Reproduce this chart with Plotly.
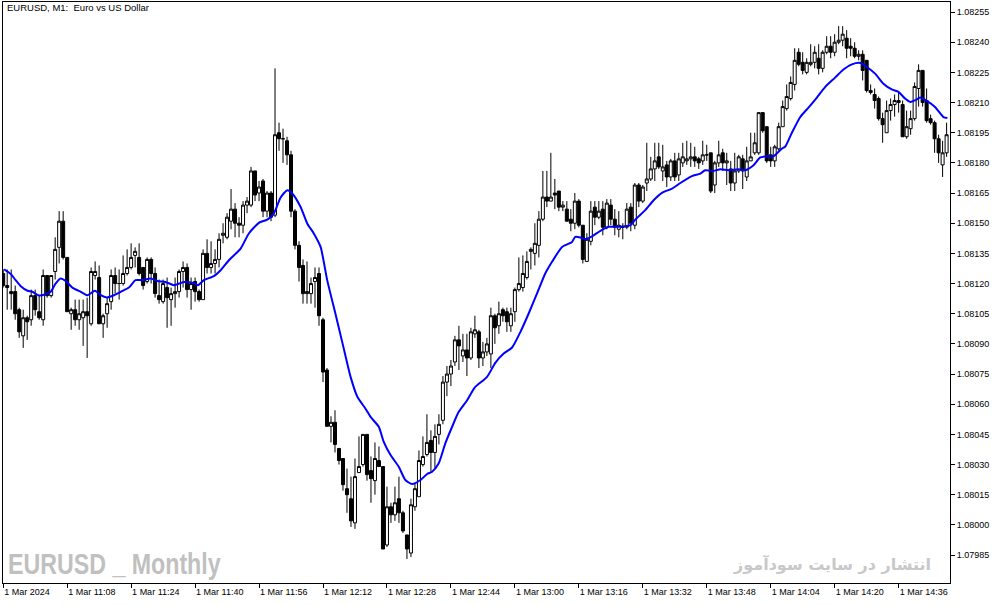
import plotly.graph_objects as go

# ---------------- data (EURUSD M1, 1 Mar 2024, 10:52 .. 14:48) ----------------
opens = [
    1.08125, 1.08119, 1.08116, 1.08116, 1.08107, 1.08094, 1.08103, 1.08102, 1.08114, 1.08106,
    1.08102, 1.08124, 1.08114, 1.08126, 1.08138, 1.08151, 1.08133, 1.08105, 1.08107, 1.08102,
    1.08103, 1.08106, 1.08100, 1.08124, 1.08123, 1.08100, 1.08105, 1.08111, 1.08124, 1.08120,
    1.08120, 1.08125, 1.08128, 1.08134, 1.08133, 1.08128, 1.08121, 1.08132, 1.08125, 1.08114,
    1.08111, 1.08118, 1.08112, 1.08115, 1.08116, 1.08126, 1.08128, 1.08117, 1.08121, 1.08116,
    1.08112, 1.08135, 1.08128, 1.08130, 1.08132, 1.08144, 1.08143, 1.08151, 1.08157, 1.08150,
    1.08149, 1.08159, 1.08159, 1.08176, 1.08165, 1.08171, 1.08156, 1.08165, 1.08154, 1.08195,
    1.08192, 1.08191, 1.08184, 1.08156, 1.08139, 1.08129, 1.08115, 1.08115, 1.08121, 1.08125,
    1.08102, 1.08077, 1.08049, 1.08051, 1.08038, 1.08033, 1.08018, 1.08013, 1.08001, 1.08026,
    1.08030, 1.08045, 1.08027, 1.08022, 1.08032, 1.08029, 1.07990, 1.08009, 1.08005, 1.08013,
    1.08006, 1.07995, 1.07986, 1.08009, 1.08014, 1.08030, 1.08035, 1.08042, 1.08036, 1.08045,
    1.08052, 1.08071, 1.08075, 1.08081, 1.08092, 1.08084, 1.08087, 1.08083, 1.08095, 1.08096,
    1.08083, 1.08086, 1.08085, 1.08104, 1.08099, 1.08107, 1.08106, 1.08099, 1.08106, 1.08117,
    1.08118, 1.08123, 1.08136, 1.08135, 1.08139, 1.08152, 1.08163, 1.08161, 1.08165, 1.08166,
    1.08158, 1.08157, 1.08152, 1.08150, 1.08161, 1.08149, 1.08131, 1.08141, 1.08158, 1.08153,
    1.08157, 1.08148, 1.08159, 1.08152, 1.08147, 1.08148, 1.08148, 1.08158, 1.08149, 1.08169,
    1.08161, 1.08170, 1.08172, 1.08177, 1.08183, 1.08176, 1.08179, 1.08173, 1.08181, 1.08174,
    1.08180, 1.08181, 1.08182, 1.08183, 1.08182, 1.08181, 1.08184, 1.08185, 1.08169, 1.08180,
    1.08185, 1.08180, 1.08177, 1.08170, 1.08176, 1.08182, 1.08173, 1.08181, 1.08185, 1.08185,
    1.08205, 1.08198, 1.08184, 1.08181, 1.08187, 1.08198, 1.08207, 1.08212, 1.08219, 1.08235,
    1.08230, 1.08225, 1.08229, 1.08230, 1.08232, 1.08227, 1.08235, 1.08238, 1.08235, 1.08240,
    1.08241, 1.08242, 1.08238, 1.08237, 1.08233, 1.08234, 1.08231, 1.08216, 1.08214, 1.08212,
    1.08202, 1.08195, 1.08206, 1.08209, 1.08211, 1.08209, 1.08193, 1.08197, 1.08202, 1.08217,
    1.08226, 1.08211, 1.08202, 1.08200, 1.08192, 1.08179, 1.08185,
]
highs = [
    1.08127, 1.08127, 1.08127, 1.08119, 1.08108, 1.08107, 1.08104, 1.08117, 1.08117, 1.08114,
    1.08127, 1.08124, 1.08124, 1.08143, 1.08156, 1.08156, 1.08133, 1.08108, 1.08112, 1.08112,
    1.08112, 1.08113, 1.08128, 1.08131, 1.08129, 1.08105, 1.08113, 1.08127, 1.08128, 1.08127,
    1.08134, 1.08137, 1.08140, 1.08138, 1.08140, 1.08128, 1.08133, 1.08133, 1.08128, 1.08122,
    1.08122, 1.08123, 1.08118, 1.08123, 1.08127, 1.08131, 1.08130, 1.08123, 1.08123, 1.08117,
    1.08137, 1.08142, 1.08141, 1.08137, 1.08145, 1.08150, 1.08155, 1.08167, 1.08160, 1.08153,
    1.08161, 1.08163, 1.08178, 1.08176, 1.08171, 1.08172, 1.08166, 1.08166, 1.08227, 1.08200,
    1.08197, 1.08193, 1.08186, 1.08157, 1.08141, 1.08132, 1.08131, 1.08123, 1.08128, 1.08128,
    1.08103, 1.08078, 1.08054, 1.08057, 1.08038, 1.08033, 1.08028, 1.08024, 1.08033, 1.08044,
    1.08045, 1.08045, 1.08034, 1.08041, 1.08039, 1.08029, 1.08019, 1.08011, 1.08019, 1.08024,
    1.08007, 1.07995, 1.08013, 1.08021, 1.08037, 1.08044, 1.08055, 1.08047, 1.08050, 1.08055,
    1.08074, 1.08079, 1.08082, 1.08094, 1.08099, 1.08095, 1.08095, 1.08098, 1.08104, 1.08097,
    1.08091, 1.08093, 1.08108, 1.08105, 1.08111, 1.08108, 1.08108, 1.08108, 1.08118, 1.08133,
    1.08134, 1.08136, 1.08138, 1.08150, 1.08156, 1.08176, 1.08176, 1.08185, 1.08172, 1.08166,
    1.08161, 1.08161, 1.08157, 1.08165, 1.08162, 1.08149, 1.08145, 1.08161, 1.08161, 1.08161,
    1.08161, 1.08162, 1.08162, 1.08157, 1.08156, 1.08150, 1.08160, 1.08160, 1.08170, 1.08170,
    1.08169, 1.08190, 1.08183, 1.08190, 1.08190, 1.08189, 1.08181, 1.08182, 1.08185, 1.08185,
    1.08190, 1.08191, 1.08190, 1.08188, 1.08183, 1.08191, 1.08189, 1.08185, 1.08181, 1.08191,
    1.08187, 1.08185, 1.08181, 1.08185, 1.08184, 1.08184, 1.08188, 1.08195, 1.08195, 1.08205,
    1.08205, 1.08198, 1.08188, 1.08189, 1.08200, 1.08211, 1.08219, 1.08223, 1.08237, 1.08237,
    1.08235, 1.08232, 1.08239, 1.08238, 1.08239, 1.08236, 1.08243, 1.08243, 1.08244, 1.08248,
    1.08248, 1.08246, 1.08242, 1.08240, 1.08236, 1.08236, 1.08231, 1.08219, 1.08217, 1.08213,
    1.08205, 1.08211, 1.08212, 1.08214, 1.08215, 1.08211, 1.08206, 1.08206, 1.08220, 1.08229,
    1.08226, 1.08217, 1.08204, 1.08201, 1.08194, 1.08191, 1.08200,
]
lows = [
    1.08118, 1.08107, 1.08107, 1.08102, 1.08093, 1.08088, 1.08092, 1.08099, 1.08104, 1.08102,
    1.08099, 1.08113, 1.08113, 1.08122, 1.08130, 1.08132, 1.08106, 1.08097, 1.08099, 1.08097,
    1.08089, 1.08083, 1.08099, 1.08122, 1.08100, 1.08093, 1.08098, 1.08107, 1.08115, 1.08112,
    1.08119, 1.08124, 1.08127, 1.08128, 1.08124, 1.08117, 1.08120, 1.08120, 1.08113, 1.08110,
    1.08110, 1.08098, 1.08099, 1.08108, 1.08113, 1.08118, 1.08113, 1.08107, 1.08111, 1.08111,
    1.08112, 1.08125, 1.08125, 1.08125, 1.08128, 1.08140, 1.08142, 1.08147, 1.08143, 1.08143,
    1.08145, 1.08155, 1.08158, 1.08161, 1.08161, 1.08153, 1.08153, 1.08151, 1.08153, 1.08186,
    1.08180, 1.08179, 1.08153, 1.08137, 1.08121, 1.08110, 1.08110, 1.08110, 1.08108, 1.08099,
    1.08071, 1.08049, 1.08041, 1.08036, 1.08030, 1.08017, 1.08006, 1.07999, 1.07998, 1.08026,
    1.08029, 1.08022, 1.08011, 1.08015, 1.08029, 1.07988, 1.07989, 1.08001, 1.08002, 1.08001,
    1.07996, 1.07983, 1.07984, 1.08007, 1.08014, 1.08029, 1.08034, 1.08026, 1.08028, 1.08040,
    1.08050, 1.08064, 1.08069, 1.08079, 1.08077, 1.08081, 1.08074, 1.08082, 1.08093, 1.08078,
    1.08079, 1.08084, 1.08078, 1.08090, 1.08095, 1.08101, 1.08096, 1.08096, 1.08101, 1.08116,
    1.08116, 1.08122, 1.08127, 1.08129, 1.08133, 1.08151, 1.08158, 1.08161, 1.08157, 1.08156,
    1.08156, 1.08151, 1.08146, 1.08147, 1.08148, 1.08130, 1.08131, 1.08139, 1.08149, 1.08152,
    1.08144, 1.08147, 1.08149, 1.08144, 1.08143, 1.08142, 1.08147, 1.08146, 1.08147, 1.08158,
    1.08160, 1.08166, 1.08171, 1.08171, 1.08177, 1.08171, 1.08168, 1.08171, 1.08171, 1.08171,
    1.08178, 1.08179, 1.08178, 1.08178, 1.08177, 1.08179, 1.08181, 1.08165, 1.08165, 1.08178,
    1.08176, 1.08169, 1.08166, 1.08166, 1.08175, 1.08167, 1.08171, 1.08181, 1.08184, 1.08184,
    1.08195, 1.08180, 1.08178, 1.08178, 1.08186, 1.08198, 1.08206, 1.08211, 1.08216, 1.08228,
    1.08224, 1.08224, 1.08228, 1.08227, 1.08224, 1.08225, 1.08234, 1.08232, 1.08233, 1.08239,
    1.08238, 1.08232, 1.08233, 1.08232, 1.08231, 1.08221, 1.08215, 1.08214, 1.08207, 1.08201,
    1.08190, 1.08195, 1.08201, 1.08203, 1.08205, 1.08193, 1.08192, 1.08194, 1.08201, 1.08208,
    1.08208, 1.08200, 1.08199, 1.08185, 1.08180, 1.08173, 1.08183,
]
closes = [
    1.08119, 1.08118, 1.08115, 1.08105, 1.08096, 1.08103, 1.08101, 1.08114, 1.08107, 1.08103,
    1.08124, 1.08114, 1.08124, 1.08137, 1.08151, 1.08133, 1.08106, 1.08107, 1.08102, 1.08105,
    1.08106, 1.08104, 1.08126, 1.08126, 1.08100, 1.08104, 1.08110, 1.08124, 1.08120, 1.08120,
    1.08125, 1.08128, 1.08133, 1.08136, 1.08125, 1.08119, 1.08132, 1.08125, 1.08115, 1.08112,
    1.08120, 1.08113, 1.08115, 1.08116, 1.08126, 1.08128, 1.08117, 1.08120, 1.08116, 1.08112,
    1.08135, 1.08128, 1.08130, 1.08132, 1.08142, 1.08145, 1.08153, 1.08157, 1.08150, 1.08149,
    1.08159, 1.08161, 1.08176, 1.08164, 1.08168, 1.08156, 1.08165, 1.08153, 1.08194, 1.08192,
    1.08192, 1.08184, 1.08156, 1.08139, 1.08128, 1.08115, 1.08116, 1.08120, 1.08123, 1.08104,
    1.08076, 1.08049, 1.08051, 1.08040, 1.08032, 1.08020, 1.08015, 1.08002, 1.08024, 1.08029,
    1.08045, 1.08025, 1.08023, 1.08033, 1.08029, 1.07988, 1.08009, 1.08005, 1.08011, 1.08006,
    1.07997, 1.07988, 1.08010, 1.08018, 1.08032, 1.08034, 1.08041, 1.08036, 1.08044, 1.08050,
    1.08071, 1.08075, 1.08079, 1.08092, 1.08089, 1.08087, 1.08083, 1.08096, 1.08097, 1.08083,
    1.08086, 1.08090, 1.08104, 1.08098, 1.08105, 1.08104, 1.08101, 1.08105, 1.08117, 1.08120,
    1.08125, 1.08131, 1.08137, 1.08140, 1.08152, 1.08163, 1.08161, 1.08163, 1.08164, 1.08158,
    1.08159, 1.08151, 1.08150, 1.08161, 1.08149, 1.08132, 1.08142, 1.08156, 1.08153, 1.08156,
    1.08148, 1.08160, 1.08152, 1.08148, 1.08149, 1.08148, 1.08157, 1.08150, 1.08169, 1.08161,
    1.08168, 1.08172, 1.08177, 1.08181, 1.08178, 1.08178, 1.08173, 1.08181, 1.08173, 1.08182,
    1.08183, 1.08182, 1.08183, 1.08181, 1.08180, 1.08184, 1.08184, 1.08166, 1.08180, 1.08184,
    1.08180, 1.08181, 1.08170, 1.08176, 1.08183, 1.08176, 1.08181, 1.08183, 1.08190, 1.08205,
    1.08196, 1.08181, 1.08181, 1.08188, 1.08198, 1.08208, 1.08213, 1.08220, 1.08231, 1.08229,
    1.08226, 1.08230, 1.08230, 1.08235, 1.08227, 1.08235, 1.08238, 1.08235, 1.08240, 1.08241,
    1.08244, 1.08237, 1.08237, 1.08233, 1.08234, 1.08226, 1.08216, 1.08215, 1.08211, 1.08202,
    1.08199, 1.08206, 1.08209, 1.08211, 1.08210, 1.08193, 1.08198, 1.08202, 1.08218, 1.08226,
    1.08210, 1.08201, 1.08200, 1.08192, 1.08185, 1.08185, 1.08194,
]
candle_idx = list(range(len(closes)))

# moving average line, x in bar index units
ma_idx = [
    0.2, 1.9, 3.1, 4.4, 6.1, 7.3, 8.95, 10.6, 11.9, 13.1, 14.4, 15.6, 17.3, 19.4, 21.1,
    22.95, 24.4, 25.9, 27.7, 29.4, 31.45, 33.1, 34.8, 36.9, 38.55, 40.6, 42.7, 45.2, 47.7,
    48.7, 50.2, 52.7, 54.4, 56.45, 59.4, 61.45, 63.95, 66.05, 67.7, 69.4, 71.05, 72.3, 74.4,
    76.05, 77.7, 79.4, 81.05, 83.1, 84.8, 86.9, 88.6, 90.6, 91.9, 93.95, 95.2, 96.9, 98.95,
    100.6, 102.3, 104.4, 106.05, 107.3, 108.95, 110.6, 112.3, 113.95, 116.05, 117.95, 121.05,
    123.1, 125.2, 127.3, 129.4, 131.45, 133.55, 135.6, 137.3, 139.8, 142.3, 143.1, 144.4,
    145.6, 147.3, 149.4, 151.45, 153.95, 156.9, 158.1, 160.6, 162.7, 164.8, 167.3, 169.4,
    172.3, 174.4, 175.6, 177.7, 179.4, 181.45, 183.95, 185.6, 187.7, 189.4, 191.45, 192.7,
    194.8, 195.6, 197.3, 199.4, 201.45, 203.55, 205.6, 208.1, 210.2, 212.3, 214.4, 216.05,
    218.1, 220.2, 222.3, 223.95, 225.6, 226.9, 228.1, 229.4, 231.05, 233.1, 235.2, 236.2,
]
ma_val = [
    1.081271, 1.081247, 1.081217, 1.081187, 1.081164, 1.081159, 1.081141, 1.081147, 1.081159,
    1.081200, 1.081225, 1.081213, 1.081180, 1.081159, 1.081142, 1.081164, 1.081142, 1.081131,
    1.081142, 1.081159, 1.081180, 1.081217, 1.081217, 1.081225, 1.081213, 1.081208, 1.081192,
    1.081208, 1.081203, 1.081192, 1.081217, 1.081237, 1.081266, 1.081316, 1.081374, 1.081449,
    1.081502, 1.081518, 1.081548, 1.081628, 1.081664, 1.081648, 1.081581, 1.081499, 1.081449,
    1.081382, 1.081217, 1.081051, 1.080910, 1.080736, 1.080637, 1.080579, 1.080537, 1.080488,
    1.080413, 1.080347, 1.080289, 1.080223, 1.080203, 1.080223, 1.080253, 1.080264, 1.080306,
    1.080405, 1.080488, 1.080562, 1.080620, 1.080683, 1.080736, 1.080806, 1.080852, 1.080882,
    1.080960, 1.081051, 1.081151, 1.081250, 1.081308, 1.081382, 1.081407, 1.081432, 1.081429,
    1.081421, 1.081435, 1.081462, 1.081482, 1.081482, 1.081490, 1.081518, 1.081565, 1.081614,
    1.081651, 1.081672, 1.081700, 1.081734, 1.081747, 1.081763, 1.081760, 1.081768, 1.081763,
    1.081768, 1.081763, 1.081788, 1.081827, 1.081833, 1.081833, 1.081871, 1.081880, 1.081950,
    1.082028, 1.082075, 1.082125, 1.082177, 1.082224, 1.082264, 1.082290, 1.082297, 1.082277,
    1.082244, 1.082194, 1.082165, 1.082153, 1.082120, 1.082103, 1.082111, 1.082125, 1.082108,
    1.082078, 1.082028, 1.082023,
]

time_tick_idx = [0, 16, 32, 48, 64, 80, 96, 112, 128, 144, 160, 176, 192, 208, 224]
time_tick_labels = [
    "1 Mar 2024", "1 Mar 11:08", "1 Mar 11:24", "1 Mar 11:40", "1 Mar 11:56",
    "1 Mar 12:12", "1 Mar 12:28", "1 Mar 12:44", "1 Mar 13:00", "1 Mar 13:16",
    "1 Mar 13:32", "1 Mar 13:48", "1 Mar 14:04", "1 Mar 14:20", "1 Mar 14:36",
]
price_ticks = [
    1.07985, 1.08000, 1.08015, 1.08030, 1.08045, 1.08060, 1.08075, 1.08090, 1.08105,
    1.08120, 1.08135, 1.08150, 1.08165, 1.08180, 1.08195, 1.08210, 1.08225, 1.08240, 1.08255,
]
price_tick_labels = [f"{v:.5f}" for v in price_ticks]

title_text = "EURUSD, M1:  Euro vs US Dollar"
watermark_left = "EURUSD _ Monthly"
watermark_right = "انتشار در سایت سودآموز"

# ---------------- figure ----------------
AX_FONT = dict(family="Liberation Sans, Arial, sans-serif", size=9, color="black")

fig = go.Figure()
fig.add_trace(go.Candlestick(
    x=candle_idx, open=opens, high=highs, low=lows, close=closes,
    increasing=dict(line=dict(color="black", width=1), fillcolor="white"),
    decreasing=dict(line=dict(color="black", width=1), fillcolor="black"),
    whiskerwidth=0, showlegend=False, hoverinfo="skip",
))
fig.add_trace(go.Scatter(
    x=ma_idx, y=ma_val, mode="lines",
    line=dict(color="#0000ff", width=2, shape="spline", smoothing=0.6),
    showlegend=False, hoverinfo="skip",
))

fig.update_layout(
    width=1003, height=605,
    margin=dict(l=3, r=53, t=2, b=22),
    paper_bgcolor="white", plot_bgcolor="white",
    showlegend=False,
    font=AX_FONT,
    boxgap=0.25, boxgroupgap=0,
    xaxis=dict(
        range=[-0.05, 236.85], rangeslider=dict(visible=False),
        showgrid=False, zeroline=False,
        showline=True, linecolor="black", linewidth=1, mirror=True,
        ticks="outside", ticklen=4, tickcolor="black", tickwidth=1,
        tickmode="array", tickvals=time_tick_idx, ticktext=time_tick_labels,
        ticklabelposition="outside right", tickfont=AX_FONT,
    ),
    yaxis=dict(
        range=[1.079711, 1.082600], side="right",
        showgrid=False, zeroline=False,
        showline=True, linecolor="black", linewidth=1, mirror=True,
        ticks="outside", ticklen=4, tickcolor="black", tickwidth=1,
        tickmode="array", tickvals=price_ticks, ticktext=price_tick_labels,
        tickfont=AX_FONT,
    ),
    annotations=[
        dict(text=title_text, xref="paper", yref="paper", x=0.002, y=0.991,
             xanchor="left", yanchor="middle", showarrow=False,
             font=dict(family="Liberation Sans, Arial, sans-serif", size=9.5, color="black")),
        dict(text=watermark_left, xref="paper", yref="paper", x=0.003, y=0.033,
             xanchor="left", yanchor="middle", showarrow=False,
             font=dict(family="Liberation Sans, Arial, sans-serif",
                       size=29, color="#c0c0c0", weight="bold")),
        dict(text=watermark_right, xref="paper", yref="paper", x=0.982, y=0.033,
             xanchor="right", yanchor="middle", showarrow=False,
             font=dict(family="DejaVu Sans, sans-serif", size=16, color="#c8c8c8", weight="bold")),
    ],
)

# remove the page margin and draw the left watermark condensed (as in the original)
post_js = """
(function(){
  document.body.style.margin='0';
  document.body.style.overflow='hidden';
  try {
    var ts = document.querySelectorAll('.annotation-text');
    ts.forEach(function(t){
      if (t.textContent.indexOf('Monthly') >= 0) {
        var b = t.getBBox();
        var x0 = b.x;
        t.setAttribute('transform', 'translate(' + x0 + ',0) scale(0.8,1) translate(' + (-x0) + ',0)');
      }
    });
  } catch (e) {}
})();
"""

fig.write_html("out.html", config={"displayModeBar": False}, post_script=post_js)
